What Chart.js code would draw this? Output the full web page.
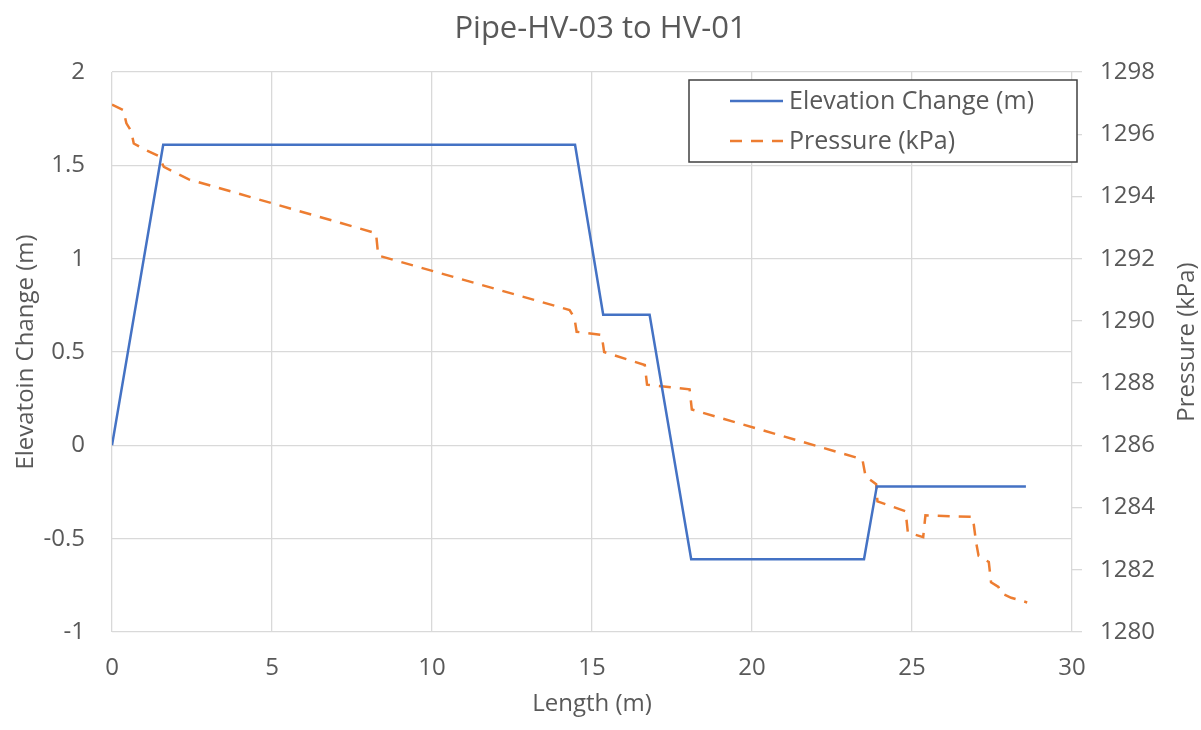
<!DOCTYPE html>
<html>
<head>
<meta charset="utf-8">
<script src="https://cdn.jsdelivr.net/npm/chart.js@4.4.1/dist/chart.umd.min.js"></script>
<style>
  html, body { margin: 0; padding: 0; background: #ffffff; }
  #wrap { width: 1201px; height: 730px; }
</style>
</head>
<body>
<div id="wrap"><canvas id="c" width="1201" height="730"></canvas></div>
<script>
const chartTitle = "Pipe-HV-03 to HV-01";
const xAxisTitle = "Length (m)";
const leftAxisTitle = "Elevatoin Change (m)";
const rightAxisTitle = "Pressure (kPa)";
const seriesNames = ["Elevation Change (m)", "Pressure (kPa)"];

const elevationLength = [0, 1.6, 14.47, 15.35, 16.8, 18.1, 23.5, 23.9, 28.56];
const elevationValues = [0, 1.61, 1.61, 0.70, 0.70, -0.61, -0.61, -0.22, -0.22];

const pressureLength = [0, 0.35, 0.45, 0.6, 0.68, 1.0, 1.45, 1.62, 2.4, 8.25, 8.32,
  14.3, 14.45, 14.52, 15.3, 15.38, 16.65, 16.72, 18.05, 18.12, 23.45, 23.55,
  23.88, 23.92, 24.8, 24.87, 25.35, 25.42, 26.9, 27.0, 27.08, 27.4, 27.47,
  27.7, 27.78, 28.1, 28.6];
const pressureValues = [1296.95, 1296.78, 1296.35, 1296.1, 1295.7, 1295.52, 1295.3, 1294.95, 1294.55, 1292.82, 1292.1,
  1290.35, 1290.1, 1289.65, 1289.55, 1289.0, 1288.58, 1287.95, 1287.8, 1287.15, 1285.55, 1285.0,
  1284.75, 1284.2, 1283.88, 1283.2, 1283.05, 1283.75, 1283.7, 1282.9, 1282.45, 1282.25, 1281.6,
  1281.45, 1281.25, 1281.1, 1280.95];

const FONT = "'Open Sans', 'Noto Sans', sans-serif";
const TEXT = "#595959";
const GRID = "#d9d9d9";
const BLUE = "#4472C4";
const ORANGE = "#ED7D31";

const boxLegend = {
  id: 'boxLegend',
  afterDraw(chart) {
    const ctx = chart.ctx;
    ctx.save();
    // right axis title, reading bottom to top
    const ca = chart.chartArea;
    ctx.fillStyle = TEXT;
    ctx.font = "24px " + FONT;
    ctx.textAlign = 'center';
    ctx.textBaseline = 'middle';
    ctx.translate(1187, (ca.top + ca.bottom) / 2 - 10);
    ctx.rotate(-Math.PI / 2);
    ctx.fillText(rightAxisTitle, 0, 0);
    ctx.restore();

    ctx.save();
    const x0 = 689, y0 = 80, w = 388, h = 82;
    ctx.fillStyle = '#ffffff';
    ctx.fillRect(x0, y0, w, h);
    ctx.strokeStyle = '#404040';
    ctx.lineWidth = 1.5;
    ctx.strokeRect(x0, y0, w, h);
    const rows = [101, 141];
    chart.data.datasets.forEach((ds, i) => {
      ctx.beginPath();
      ctx.strokeStyle = ds.borderColor;
      ctx.lineWidth = 2.5;
      ctx.setLineDash(ds.borderDash || []);
      ctx.moveTo(730, rows[i]);
      ctx.lineTo(783, rows[i]);
      ctx.stroke();
      ctx.setLineDash([]);
      ctx.fillStyle = TEXT;
      ctx.font = "25px " + FONT;
      ctx.textAlign = 'left';
      ctx.textBaseline = 'middle';
      ctx.fillText(ds.label, 789, rows[i] + 1);
    });
    ctx.restore();
  }
};

const whiteBg = {
  id: 'whiteBg',
  beforeDraw(chart) {
    const ctx = chart.ctx;
    ctx.save();
    ctx.fillStyle = '#ffffff';
    ctx.fillRect(0, 0, chart.width, chart.height);
    ctx.restore();
  }
};

new Chart(document.getElementById('c'), {
  type: 'line',
  data: {
    datasets: [
      {
        label: seriesNames[0],
        data: elevationLength.map((x, i) => ({ x: x, y: elevationValues[i] })),
        borderColor: BLUE,
        backgroundColor: BLUE,
        borderWidth: 2.5,
        pointRadius: 0,
        tension: 0,
        yAxisID: 'y'
      },
      {
        label: seriesNames[1],
        data: pressureLength.map((x, i) => ({ x: x, y: pressureValues[i] })),
        borderColor: ORANGE,
        backgroundColor: ORANGE,
        borderWidth: 2.5,
        borderDash: [12, 9],
        pointRadius: 0,
        tension: 0,
        yAxisID: 'y1'
      }
    ]
  },
  options: {
    responsive: false,
    animation: false,
    layout: { padding: 0 },
    plugins: {
      legend: { display: false },
      tooltip: { enabled: false },
      title: {
        display: true,
        text: chartTitle,
        color: TEXT,
        font: { family: FONT, size: 31, weight: 'normal' },
        padding: { top: 11, bottom: 23.8 }
      }
    },
    scales: {
      x: {
        type: 'linear',
        min: 0, max: 30,
        ticks: { stepSize: 5, color: TEXT, font: { family: FONT, size: 24 }, padding: 22, maxRotation: 0,
          callback: (v) => String(v) },
        grid: { color: GRID, lineWidth: 1.3, drawTicks: false },
        border: { display: false },
        title: { display: true, text: xAxisTitle, color: TEXT, font: { family: FONT, size: 24 }, padding: { top: 0, bottom: 11 } },
        afterFit(s) { s.height = 98; }
      },
      y: {
        type: 'linear',
        position: 'left',
        min: -1, max: 2,
        ticks: { stepSize: 0.5, color: TEXT, font: { family: FONT, size: 24 }, padding: 27,
          callback: (v) => String(v) },
        grid: { color: GRID, lineWidth: 1.3, drawTicks: false },
        border: { display: false },
        title: { display: true, text: leftAxisTitle, color: TEXT, font: { family: FONT, size: 24 }, padding: { top: 12, bottom: 0 } },
        afterFit(s) { s.width = 112; }
      },
      y1: {
        type: 'linear',
        position: 'right',
        min: 1280, max: 1298,
        ticks: { stepSize: 2, color: TEXT, font: { family: FONT, size: 24 }, padding: 18,
          callback: (v) => String(v) },
        grid: { drawOnChartArea: false, drawTicks: true, tickLength: 10, color: GRID, lineWidth: 1.3 },
        border: { display: false },
        afterFit(s) { s.width = 129; }
      }
    }
  },
  plugins: [whiteBg, boxLegend]
});
</script>
</body>
</html>
